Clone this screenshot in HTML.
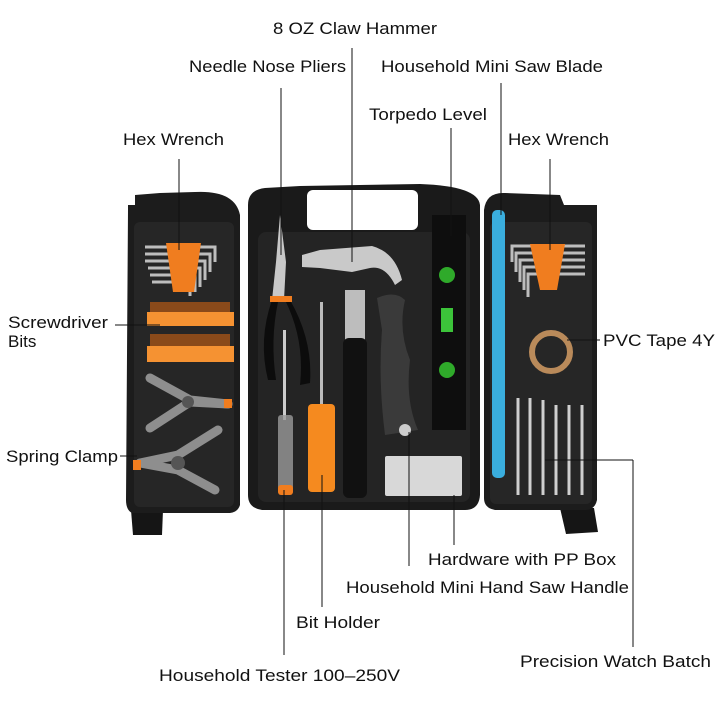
<!DOCTYPE html>
<html><head><meta charset="utf-8"><style>
html,body{margin:0;padding:0;background:#fff;}
svg{display:block;}
text{font-family:"Liberation Sans",sans-serif;fill:#111;}
.c{font-size:17px;}
.n{font-size:17px;}
</style></head><body>
<svg width="720" height="720" viewBox="0 0 720 720" xmlns="http://www.w3.org/2000/svg">
<!-- feet -->
<path d="M131 510 L163 510 L162 535 L133 535 Z" fill="#151515"/>
<path d="M560 508 L594 508 L598 532 L566 534 Z" fill="#151515"/>
<!-- left panel -->
<path d="M128 210 L128 205 L135 205 L135 195 L160 193 L195 192 Q235 190 240 215 L240 505 Q238 512 230 513 L132 513 Q126 510 126 500 Z" fill="#1c1c1c"/>
<rect x="134" y="222" width="100" height="285" rx="6" fill="#262626"/>
<!-- middle panel -->
<path d="M248 205 Q248 190 265 188 L300 186 L420 184 Q478 186 480 205 L480 495 Q479 510 465 510 L262 510 Q248 508 248 495 Z" fill="#1a1a1a"/>
<rect x="307" y="190" width="111" height="40" rx="6" fill="#fff"/>
<rect x="258" y="232" width="212" height="270" rx="8" fill="#242424"/>
<!-- right panel -->
<path d="M484 210 Q486 192 505 193 L560 195 L564 205 L597 205 L597 500 Q595 510 585 510 L495 510 Q484 508 484 498 Z" fill="#1c1c1c"/>
<rect x="490" y="222" width="102" height="282" rx="6" fill="#262626"/>

<!-- left hex wrenches -->
<g stroke="#bdbdbd" stroke-width="3" fill="none">
<path d="M145 247 H215 V262"/><path d="M145 254 H210 V272"/><path d="M145 261 H205 V280"/><path d="M148 268 H200 V287"/><path d="M150 275 H195 V292"/><path d="M152 282 H190 V296"/>
</g>
<path d="M166 243 H201 L194 292 H173 Z" fill="#f07d1f"/>
<!-- bits -->
<rect x="147" y="312" width="87" height="14" fill="#f59232"/>
<rect x="147" y="346" width="87" height="16" fill="#f59232"/>
<g fill="#8a4a1a"><rect x="150" y="302" width="80" height="10"/><rect x="150" y="334" width="80" height="12"/></g>
<!-- clamps -->
<g stroke="#8e8e8e" stroke-width="9" stroke-linecap="round" fill="none">
<path d="M150 378 L190 400 L228 404"/><path d="M150 428 L190 402 L228 404"/>
<path d="M140 463 L178 455 L218 430"/><path d="M140 463 L178 470 L215 490"/>
</g>
<circle cx="188" cy="402" r="6" fill="#555"/><circle cx="178" cy="463" r="7" fill="#555"/>
<rect x="224" y="399" width="8" height="9" fill="#f07d1f"/><rect x="133" y="460" width="8" height="10" fill="#f07d1f"/>

<!-- pliers -->
<path d="M280 215 L276 262 L272 300 L284 300 L286 262 Z" fill="#c8c8c8"/>
<path d="M272 300 Q258 340 268 380 L276 380 Q270 340 278 302 Z" fill="#0c0c0c"/>
<path d="M285 300 Q305 340 300 385 L310 383 Q313 340 290 300 Z" fill="#0c0c0c"/>
<rect x="270" y="296" width="22" height="6" fill="#f07d1f"/>
<!-- tester -->
<rect x="283" y="330" width="3" height="90" fill="#ccc"/>
<rect x="278" y="415" width="15" height="75" rx="3" fill="#9a9a9a" opacity=".8"/>
<rect x="278" y="485" width="15" height="10" rx="3" fill="#f07d1f"/>
<!-- orange screwdriver -->
<rect x="320" y="302" width="3" height="105" fill="#bbb"/>
<rect x="308" y="404" width="27" height="88" rx="4" fill="#f58a1f"/>
<!-- hammer -->
<rect x="345" y="290" width="20" height="50" fill="#bdbdbd"/>
<rect x="343" y="338" width="24" height="160" rx="6" fill="#111"/>
<path d="M302 255 L320 250 L372 246 Q395 252 402 280 L395 285 Q385 265 370 268 L352 272 L320 268 L302 267 Z" fill="#c9c9c9"/>
<!-- saw handle -->
<path d="M377 298 Q395 290 405 300 Q398 330 410 360 Q405 400 418 430 L385 435 Q378 380 382 330 Z" fill="#3a3a3a"/>
<circle cx="405" cy="430" r="6" fill="#ccc"/>
<!-- level -->
<rect x="432" y="215" width="34" height="215" fill="#0e0e0e"/>
<circle cx="447" cy="275" r="8" fill="#2faa2a"/><rect x="441" y="308" width="12" height="24" fill="#3cc43a"/><circle cx="447" cy="370" r="8" fill="#2faa2a"/>
<!-- hardware box -->
<rect x="385" y="456" width="77" height="40" rx="2" fill="#d8d8d8"/>
<!-- blue blade -->
<rect x="492" y="210" width="13" height="268" rx="5" fill="#3aaede"/>
<!-- right hex -->
<g stroke="#bdbdbd" stroke-width="3" fill="none">
<path d="M585 246 H512 V262"/><path d="M585 253 H516 V272"/><path d="M585 260 H520 V282"/><path d="M585 267 H524 V290"/><path d="M585 274 H528 V297"/>
</g>
<path d="M530 244 H565 L557 290 H540 Z" fill="#f07d1f"/>
<!-- tape -->
<circle cx="551" cy="352" r="19" fill="none" stroke="#b98a5a" stroke-width="6"/>
<!-- precision screwdrivers -->
<g stroke="#cfcfcf" stroke-width="3">
<line x1="518" y1="398" x2="518" y2="495"/><line x1="530" y1="398" x2="530" y2="495"/><line x1="543" y1="400" x2="543" y2="495"/><line x1="556" y1="405" x2="556" y2="495"/><line x1="569" y1="405" x2="569" y2="495"/><line x1="582" y1="405" x2="582" y2="495"/>
</g>

<!-- leader lines -->
<g stroke="#111" stroke-width="1" fill="none">
<line x1="352" y1="48" x2="352" y2="262"/>
<line x1="281" y1="88" x2="281" y2="255"/>
<line x1="501" y1="83" x2="501" y2="215"/>
<line x1="451" y1="128" x2="451" y2="236"/>
<line x1="179" y1="159" x2="179" y2="250"/>
<line x1="550" y1="159" x2="550" y2="250"/>
<line x1="115" y1="325" x2="160" y2="325"/>
<line x1="120" y1="456" x2="137" y2="456"/>
<line x1="567" y1="340" x2="600" y2="340"/>
<line x1="545" y1="460" x2="633" y2="460"/><line x1="633" y1="460" x2="633" y2="647"/>
<line x1="284" y1="490" x2="284" y2="655"/>
<line x1="322" y1="475" x2="322" y2="607"/>
<line x1="409" y1="432" x2="409" y2="566"/>
<line x1="454" y1="495" x2="454" y2="545"/>
</g>

<!-- labels -->
<text class="c" x="273" y="34" textLength="164" lengthAdjust="spacingAndGlyphs">8 OZ Claw Hammer</text>
<text class="c" x="189" y="72" textLength="157" lengthAdjust="spacingAndGlyphs">Needle Nose Pliers</text>
<text class="c" x="381" y="72" textLength="222" lengthAdjust="spacingAndGlyphs">Household Mini Saw Blade</text>
<text class="c" x="369" y="120" textLength="118" lengthAdjust="spacingAndGlyphs">Torpedo Level</text>
<text class="c" x="123" y="145" textLength="101" lengthAdjust="spacingAndGlyphs">Hex Wrench</text>
<text class="c" x="508" y="145" textLength="101" lengthAdjust="spacingAndGlyphs">Hex Wrench</text>
<text class="n" x="8" y="328" textLength="100" lengthAdjust="spacingAndGlyphs">Screwdriver</text>
<text class="n" x="8" y="347">Bits</text>
<text class="n" x="6" y="462" textLength="112" lengthAdjust="spacingAndGlyphs">Spring Clamp</text>
<text class="c" x="603" y="346" textLength="112" lengthAdjust="spacingAndGlyphs">PVC Tape 4Y</text>
<text class="c" x="428" y="565" textLength="188" lengthAdjust="spacingAndGlyphs">Hardware with PP Box</text>
<text class="c" x="346" y="593" textLength="283" lengthAdjust="spacingAndGlyphs">Household Mini Hand Saw Handle</text>
<text class="c" x="296" y="628" textLength="84" lengthAdjust="spacingAndGlyphs">Bit Holder</text>
<text class="c" x="520" y="667" textLength="191" lengthAdjust="spacingAndGlyphs">Precision Watch Batch</text>
<text class="c" x="159" y="681" textLength="241" lengthAdjust="spacingAndGlyphs">Household Tester 100–250V</text>
</svg>
</body></html>
